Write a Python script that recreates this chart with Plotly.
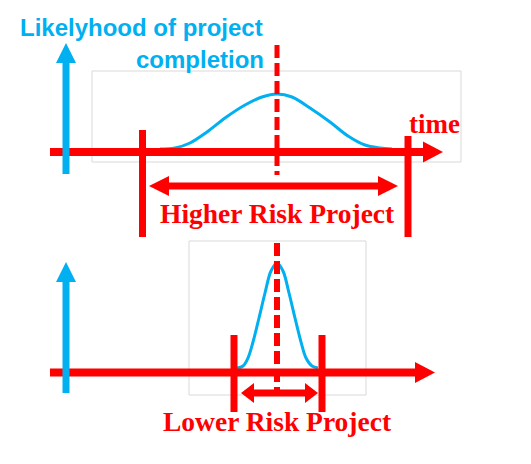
import plotly.graph_objects as go

W, H = 531, 464
BLUE = "#00B0F0"
RED = "#FF0000"
GRAY = "#D9D9D9"

# Bell curves (pixel coordinates of the diagram)
high_x = [160, 175, 190, 207, 225, 245, 262, 277, 292, 310, 330, 348, 365, 380, 392]
high_y = [149, 148, 143, 132, 118, 105, 97, 94, 97, 108, 122, 136, 145, 148, 149]
low_x = [237, 243, 248, 253, 259, 265, 271, 277, 283, 289, 295, 301, 306, 312, 318]
low_y = [368, 366, 358, 342, 318, 293, 271, 263, 271, 293, 318, 342, 358, 366, 368]

# Labels
title_lines = ["Likelyhood of project", "completion"]
time_label = "time"
high_label = "Higher Risk Project"
low_label = "Lower Risk Project"

# Panel geometry (pixels)
top_box = (92, 71, 461, 162)
bot_box = (189, 241, 366, 395)
top_axis_y, bot_axis_y = 152, 372.5
axis_x0 = 50
top_axis_tip, bot_axis_tip = 443, 435
top_ticks = [(142.5, 130, 237), (408, 136, 237)]
bot_ticks = [(234, 335, 412), (322, 335, 412)]
top_span = (149, 398, 186)
bot_span = (241, 318, 393)
center_x = 277
top_dash = (45, 175)
bot_dash = (243, 390)
y_arrow_x = 66
top_yarrow = (174, 43)
bot_yarrow = (393, 262)

shapes = []


def rect(b):
    shapes.append(dict(type="rect", x0=b[0], y0=b[1], x1=b[2], y1=b[3],
                       line=dict(color=GRAY, width=1), layer="below"))


def seg(x0, y0, x1, y1, color, width, dash=None):
    ln = dict(color=color, width=width)
    if dash:
        ln["dash"] = dash
    shapes.append(dict(type="line", x0=x0, y0=y0, x1=x1, y1=y1, line=ln, layer="above"))


def tri(pts, color):
    path = "M " + " L ".join(f"{x},{y}" for x, y in pts) + " Z"
    shapes.append(dict(type="path", path=path, fillcolor=color,
                       line=dict(color=color, width=0), layer="above"))


def h_arrow(x0, tip, y, color, width, hl=20, hh=10.5):
    seg(x0, y, tip - hl + 1, y, color, width)
    tri([(tip - hl, y - hh), (tip, y), (tip - hl, y + hh)], color)


def dbl_arrow(xl, xr, y, color, width, hl, hh=10):
    seg(xl + hl - 1, y, xr - hl + 1, y, color, width)
    tri([(xl + hl, y - hh), (xl, y), (xl + hl, y + hh)], color)
    tri([(xr - hl, y - hh), (xr, y), (xr - hl, y + hh)], color)


def v_arrow(x, y0, tip, color, width, hl=20, hw=10):
    seg(x, y0, x, tip + hl - 1, color, width)
    tri([(x - hw, tip + hl), (x, tip), (x + hw, tip + hl)], color)


rect(top_box)
rect(bot_box)

# top panel
h_arrow(axis_x0, top_axis_tip, top_axis_y, RED, 8)
v_arrow(y_arrow_x, top_yarrow[0], top_yarrow[1], BLUE, 7)
for x, y0, y1 in top_ticks:
    seg(x, y0, x, y1, RED, 7)
seg(center_x, top_dash[0], center_x, top_dash[1], RED, 5, "13px,5px")
dbl_arrow(top_span[0], top_span[1], top_span[2], RED, 7, 20)

# bottom panel
h_arrow(axis_x0, bot_axis_tip, bot_axis_y, RED, 8)
v_arrow(y_arrow_x, bot_yarrow[0], bot_yarrow[1], BLUE, 7)
for x, y0, y1 in bot_ticks:
    seg(x, y0, x, y1, RED, 7)
seg(center_x, bot_dash[0], center_x, bot_dash[1], RED, 6, "13px,5px")
dbl_arrow(bot_span[0], bot_span[1], bot_span[2], RED, 7, 13)

fig = go.Figure()
fig.add_trace(go.Scatter(x=high_x, y=high_y, mode="lines",
                         line=dict(color=BLUE, width=3, shape="spline", smoothing=1.0),
                         hoverinfo="skip", showlegend=False))
fig.add_trace(go.Scatter(x=low_x, y=low_y, mode="lines",
                         line=dict(color=BLUE, width=3, shape="spline", smoothing=1.0),
                         hoverinfo="skip", showlegend=False))

sans = "Liberation Sans"
serif = "Liberation Serif"
annotations = [
    dict(x=141, y=27, text=f"<b>{title_lines[0]}</b>", font=dict(family=sans, size=24, color=BLUE)),
    dict(x=200, y=59, text=f"<b>{title_lines[1]}</b>", font=dict(family=sans, size=24, color=BLUE)),
    dict(x=434.5, y=124, text=f"<b>{time_label}</b>", font=dict(family=serif, size=27, color=RED)),
    dict(x=277.5, y=213, text=f"<b>{high_label}</b>", font=dict(family=serif, size=27.5, color=RED)),
    dict(x=277, y=421, text=f"<b>{low_label}</b>", font=dict(family=serif, size=27.5, color=RED)),
]
for a in annotations:
    a.update(xref="x", yref="y", showarrow=False, xanchor="center", yanchor="middle")

fig.update_layout(
    width=W, height=H,
    margin=dict(l=0, r=0, t=0, b=0),
    paper_bgcolor="white", plot_bgcolor="white",
    xaxis=dict(range=[0, W], visible=False, fixedrange=True),
    yaxis=dict(range=[H, 0], visible=False, fixedrange=True),
    shapes=shapes,
    annotations=annotations,
    showlegend=False,
)
fig.write_html("out.html", config={"displayModeBar": False})
